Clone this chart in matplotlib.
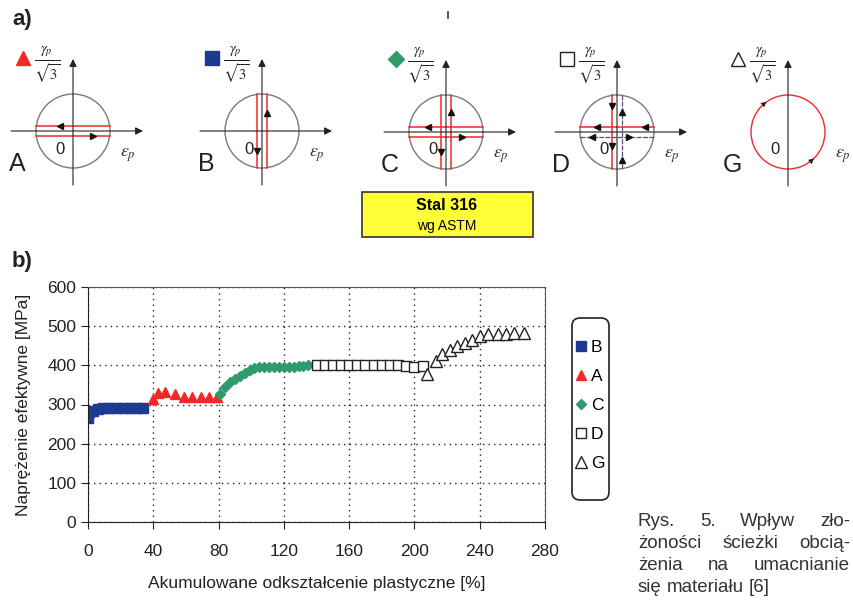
import numpy as np
import matplotlib
matplotlib.use('Agg')
import matplotlib.pyplot as plt
from matplotlib.patches import Circle, Rectangle, FancyBboxPatch

plt.rcParams['font.family'] = ['Liberation Sans', 'DejaVu Sans']
plt.rcParams['mathtext.fontset'] = 'stix'

# data
b_x = [0, 0.5, 3, 6, 9, 13, 17, 22, 26, 30, 34]
b_y = [265, 280, 284, 288, 291, 292, 292, 292, 292, 292, 292]
a_x = [40, 43, 47, 53, 59, 64, 69, 74, 79]
a_y = [314, 330, 331, 326, 320, 320, 320, 320, 320]
c_x = [81, 84, 87, 90, 93, 96, 99, 102, 105, 108, 111, 114, 117, 120, 123, 126, 129, 132, 135]
c_y = [326, 345, 357, 366, 374, 381, 387, 392, 395, 396, 395, 396, 395, 396, 396, 397, 398, 399, 400]
d_x = [140, 145, 150, 155, 160, 165, 170, 175, 180, 185, 190, 195, 200, 205]
d_y = [400, 400, 400, 400, 400, 400, 401, 401, 400, 400, 400, 398, 396, 398]
g_x = [208, 213, 217, 222, 226, 231, 235, 240, 245, 251, 256, 261, 267]
g_y = [378, 410, 428, 440, 450, 457, 465, 476, 479, 480, 480, 482, 482]

x_ticks = [0, 40, 80, 120, 160, 200, 240, 280]
y_ticks = [0, 100, 200, 300, 400, 500, 600]

caption = ['Rys. 5. Wpływ zło-', 'żoności ścieżki obcią-', 'żenia na umacnianie', 'się materiału [6]']

BLUE = '#1c3a8f'
RED = '#f02828'
GREEN = '#2f9a6c'
GREY = '#7a7a7a'

fig = plt.figure(figsize=(8.54, 6.0), dpi=100)

# overlay in pixel units for the schematic part a)
top = fig.add_axes([0, 0, 1, 1])
top.set_xlim(0, 854)
top.set_ylim(600, 0)
top.axis('off')

R = 37
d = 5


def arrow(ax, x0, y0, x1, y1, ms=11, lw=0.8):
    ax.annotate('', xy=(x1, y1), xytext=(x0, y0),
                arrowprops=dict(arrowstyle='-|>', color='#222222', lw=lw,
                                mutation_scale=ms, shrinkA=0, shrinkB=0))


def head(ax, x, y, m):
    ax.plot(x, y, marker=m, ms=5, color='#111111', ls='none')


def diagram(cx, cy, letter, kind, sym):
    ec = RED if kind == 'G' else GREY
    top.add_patch(Circle((cx, cy), R, fill=False, ec=ec, lw=1.0))
    arrow(top, cx - 62, cy, cx + 70, cy)
    arrow(top, cx, cy + 54, cx, cy - 72)
    h = np.sqrt(R**2 - d**2)
    if kind in ('A', 'C'):
        top.plot([cx - h, cx + h], [cy - d, cy - d], color=RED, lw=1.1)
        top.plot([cx - h, cx + h], [cy + d, cy + d], color=RED, lw=1.1)
    if kind in ('B', 'C'):
        top.plot([cx - d, cx - d], [cy - h, cy + h], color=RED, lw=1.1)
        top.plot([cx + d, cx + d], [cy - h, cy + h], color=RED, lw=1.1)
    if kind == 'A':
        head(top, cx - 13, cy - d, '<')
        head(top, cx + 20, cy + d, '>')
    if kind == 'B':
        head(top, cx + d, cy - 18, '^')
        head(top, cx - d, cy + 20, 'v')
    if kind == 'C':
        head(top, cx - 18, cy - d, '<')
        head(top, cx + 16, cy + d, '>')
        head(top, cx + d, cy - 20, '^')
        head(top, cx - d, cy + 20, 'v')
    if kind == 'D':
        top.plot([cx - h, cx + h], [cy - d, cy - d], color=RED, lw=1.1)
        top.plot([cx - d, cx - d], [cy - h, cy + h], color=RED, lw=1.1)
        top.plot([cx - h, cx + h], [cy + d, cy + d], color='#555566', lw=0.9, ls=(0, (4, 1)))
        top.plot([cx + d, cx + d], [cy - h, cy + h], color='#555566', lw=0.9, ls=(0, (4, 1)))
        head(top, cx - d, cy - 26, 'v')
        head(top, cx + d, cy - 20, '^')
        head(top, cx - 20, cy - d, '<')
        head(top, cx + 28, cy - d, '<')
        head(top, cx - 25, cy + d, '<')
        head(top, cx - d, cy + 14, 'v')
        head(top, cx + 12, cy + d, '>')
        head(top, cx + d, cy + 28, '^')
    if kind == 'G':
        for ang in (130, -50):
            t = np.radians(ang)
            px, py = cx + R * np.cos(t), cy - R * np.sin(t)
            arrow(top, px - 3 * 0.766, py + 3 * 0.643, px + 3 * 0.766, py - 3 * 0.643, ms=10, lw=0)
    top.text(cx - 13, cy + 18, '0', fontsize=12, ha='center', va='center', color='#222222')
    top.text(cx + 55, cy + 24, r'$\varepsilon_p$', fontsize=13, ha='center', va='center', color='#333333')
    top.text(cx - 56, cy + 33, letter, fontsize=18, ha='center', va='center', color='#222222')
    top.text(cx - 26, cy - 66, r'$\frac{\gamma_p}{\sqrt{3}}$', fontsize=15, ha='center', va='center', color='#222222')
    mk, fc = sym
    top.plot(cx - 50, cy - 73, marker=mk, ms=10 if mk != 'D' else 8, mfc=fc,
             mec=fc if fc != 'none' else '#222222', mew=1.0, ls='none')


diagram(73, 131, 'A', 'A', ('^', RED))
diagram(262, 131, 'B', 'B', ('s', BLUE))
diagram(446, 132, 'C', 'C', ('D', GREEN))
diagram(617, 132, 'D', 'D', ('s', 'none'))
diagram(788, 132, 'G', 'G', ('^', 'none'))

top.text(12, 20, 'a)', fontsize=16, fontweight='bold', color='#222222', va='center')
top.text(12, 262, 'b)', fontsize=16, fontweight='bold', color='#222222', va='center')
top.plot([448, 448], [12, 18], color='#333333', lw=1.2)

top.add_patch(Rectangle((362, 192), 171, 45, fc='#ffff38', ec='#333333', lw=1.2))
top.text(447, 206, 'Stal 316', fontsize=11.5, fontweight='bold', ha='center', va='center')
top.text(447, 226, 'wg ASTM', fontsize=10, ha='center', va='center')

# caption, justified by hand between x=638 and x=850 (last line left aligned)
renderer = fig.canvas.get_renderer()
for i, line in enumerate(caption):
    y = 522 + i * 22
    words = line.split(' ')
    items = [top.text(0, y, w, fontsize=13.5, color='#333333', va='center') for w in words]
    widths = [t.get_window_extent(renderer).width for t in items]
    if i < len(caption) - 1 and len(words) > 1:
        gap = (850 - 638 - sum(widths)) / (len(words) - 1)
    else:
        gap = 5
    x = 638
    for t, w in zip(items, widths):
        t.set_x(x)
        x += w + gap

# chart b)
ax = fig.add_axes([88 / 854, 1 - 522 / 600, (545 - 88) / 854, (522 - 287) / 600])
ax.plot(b_x, b_y, 's', color=BLUE, ms=6.5, label='B')
ax.plot(a_x, a_y, '^', color=RED, ms=7, label='A')
ax.plot(c_x, c_y, 'D', color=GREEN, ms=5, label='C')
ax.plot(d_x, d_y, 's', mfc='white', mec='#222222', mew=1.0, ms=7, label='D')
ax.plot(g_x, g_y, '^', mfc='white', mec='#222222', mew=1.0, ms=8, label='G')

ax.set_xlim(0, 280)
ax.set_ylim(0, 600)
ax.set_xticks(x_ticks)
ax.set_yticks(y_ticks)
ax.grid(True, color='#222222', ls=(0, (1, 3)), lw=1.0)
ax.tick_params(labelsize=12.5, direction='out', length=5, colors='#222222')
ax.tick_params(axis='x', pad=11)
for s in ax.spines.values():
    s.set_color('#555555')
ax.spines['left'].set_color('#222222')
ax.spines['bottom'].set_color('#222222')
ax.set_ylabel('Naprężenie efektywne [MPa]', fontsize=12.5, color='#222222', labelpad=12)
ax.set_xlabel('Akumulowane odkształcenie plastyczne [%]', fontsize=12.5, color='#222222', labelpad=12)

top.add_patch(FancyBboxPatch((572, 318), 37, 182, boxstyle='round,pad=0,rounding_size=8',
                             fc='white', ec='#222222', lw=1.2))
leg = ax.legend(loc='upper left', bbox_to_anchor=(576 / 854, 1 - 340 / 600), bbox_transform=fig.transFigure,
                fontsize=12.5, handlelength=0.6, handletextpad=0.25, labelspacing=0.8, borderpad=0,
                borderaxespad=0, frameon=False)

fig.savefig('out.png', dpi=100)
